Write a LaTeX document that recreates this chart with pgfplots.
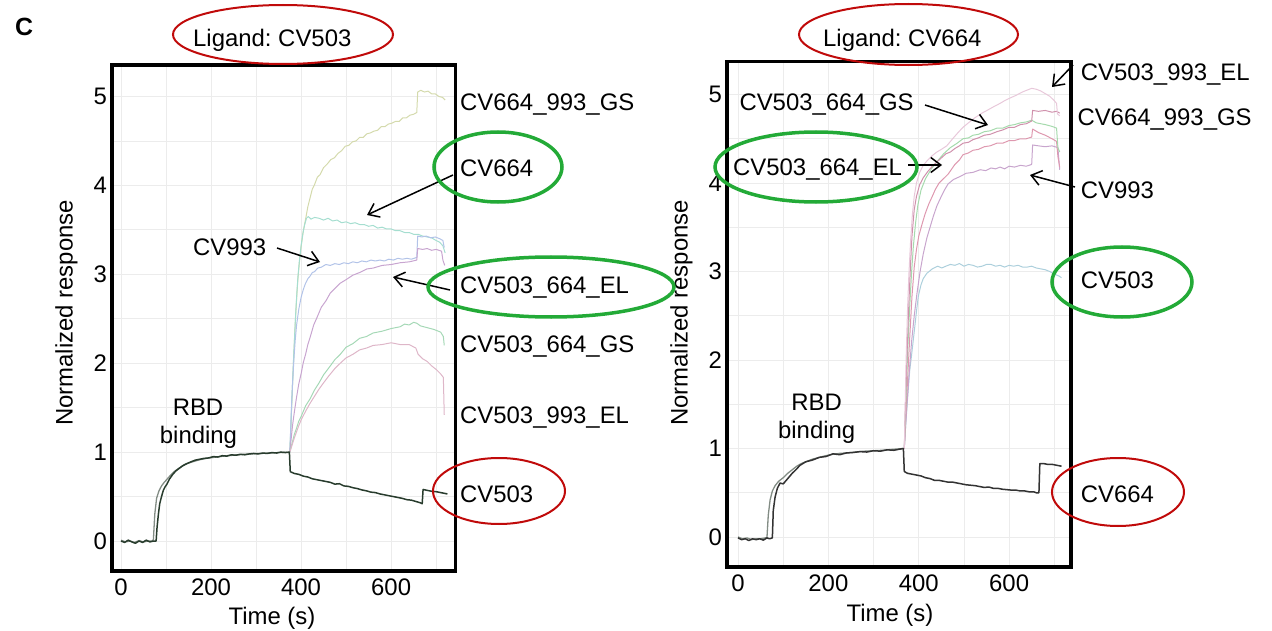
\documentclass[border=0pt]{standalone}
\usepackage{fontspec}
\setmainfont{Liberation Sans}
\usepackage{pgfplots}
\pgfplotsset{compat=1.18}
\usetikzlibrary{arrows.meta}
\frenchspacing
\newcommand{\lbl}{\fontsize{24}{28.8}\selectfont}
\definecolor{ringred}{RGB}{192,10,10}
\definecolor{ringgreen}{RGB}{35,170,55}
\definecolor{gridc}{RGB}{236,236,236}
\definecolor{cyel}{RGB}{212,218,172}
\definecolor{cteal}{RGB}{165,222,208}
\definecolor{cblue}{RGB}{178,195,232}
\definecolor{cmauve}{RGB}{200,165,208}
\definecolor{cgreen}{RGB}{165,216,182}
\definecolor{cpink}{RGB}{222,182,200}
\definecolor{rA}{RGB}{232,200,218}
\definecolor{rB}{RGB}{208,145,172}
\definecolor{rC}{RGB}{165,218,172}
\definecolor{rD}{RGB}{222,152,175}
\definecolor{rE}{RGB}{200,165,205}
\definecolor{rF}{RGB}{172,207,220}
\definecolor{blk}{RGB}{40,60,45}
\definecolor{blkgray}{RGB}{130,140,132}
\pgfplotsset{
  panel/.style={
    anchor=south west, scale only axis,
    axis line style={line width=3.5bp, black},
    /pgf/number format/assume math mode=true,
    ticklabel style={font=\lbl},
    xticklabel style={inner sep=0pt, anchor=north, yshift=-7.5bp},
    yticklabel style={inner sep=0pt, anchor=east, xshift=-5bp},
    xtick={0,200,400,600}, ytick={0,1,2,3,4,5},
    minor xtick={100,300,500,700}, minor ytick={0.5,1.5,2.5,3.5,4.5},
    major tick length=0pt, minor tick length=0pt,
    grid=both,
    major grid style={draw=gridc, line width=0.8bp},
    minor grid style={draw=gridc, line width=0.8bp},
    every axis plot/.append style={line join=round},
  },
  pale/.style={line width=1bp},
}
\begin{document}
\begin{tikzpicture}
\useasboundingbox (0,0) rectangle (1272bp,-631bp);
% ---------------- LEFT PANEL ----------------
\begin{axis}[panel, at={(112bp,-571bp)}, width=343.5bp, height=506bp,
  xmin=-20, xmax=743, ymin=-0.337, ymax=5.354]
\addplot[pale, cyel] coordinates {(375,1.00)(377,1.22)(379,1.50)(381,1.76)(383,2.00)(385,2.22)(387,2.44)(389,2.63)(391,2.80)(393,2.95)(396,3.12)(400,3.31)(405,3.49)(410,3.62)(415,3.76)(420,3.86)(425,3.96)(430,4.01)(436,4.09)(442,4.12)(450,4.20)(458,4.24)(466,4.29)(474,4.31)(482,4.36)(490,4.39)(498,4.44)(506,4.45)(514,4.49)(522,4.50)(530,4.54)(538,4.54)(546,4.58)(554,4.59)(562,4.61)(570,4.62)(578,4.66)(586,4.66)(594,4.69)(602,4.70)(610,4.72)(618,4.72)(626,4.76)(634,4.76)(642,4.79)(650,4.80)(657,4.82)(659,5.05)(666,5.07)(674,5.05)(682,5.06)(690,5.03)(698,5.03)(706,5.00)(714,4.99)(720,4.96)};
\addplot[pale, cteal] coordinates {(375,1.00)(377,1.24)(379,1.52)(381,1.78)(383,2.02)(385,2.24)(387,2.46)(389,2.65)(391,2.82)(393,2.97)(396,3.14)(400,3.32)(404,3.46)(408,3.56)(412,3.63)(416,3.65)(422,3.62)(430,3.64)(440,3.63)(450,3.61)(460,3.63)(470,3.60)(480,3.61)(490,3.58)(500,3.59)(510,3.57)(520,3.58)(530,3.56)(540,3.56)(550,3.54)(560,3.55)(570,3.52)(580,3.53)(590,3.51)(600,3.51)(610,3.49)(620,3.49)(630,3.47)(640,3.47)(650,3.45)(660,3.45)(670,3.43)(680,3.42)(690,3.41)(700,3.38)(708,3.36)(715,3.32)(720,3.24)};
\addplot[pale, cblue] coordinates {(375,1.00)(377,1.28)(379,1.55)(381,1.76)(383,1.95)(385,2.12)(387,2.26)(390,2.43)(395,2.61)(400,2.74)(405,2.83)(410,2.90)(415,2.95)(420,2.98)(425,3.02)(430,3.03)(437,3.07)(445,3.08)(455,3.11)(465,3.10)(475,3.12)(485,3.11)(495,3.13)(505,3.12)(515,3.14)(525,3.13)(535,3.15)(545,3.14)(555,3.16)(565,3.15)(575,3.16)(585,3.15)(595,3.17)(605,3.16)(615,3.18)(625,3.17)(635,3.18)(645,3.17)(657,3.19)(659,3.43)(668,3.42)(678,3.43)(688,3.41)(698,3.42)(708,3.40)(715,3.38)(718,3.30)};
\addplot[pale, cmauve] coordinates {(375,1.00)(378,1.15)(381,1.30)(385,1.45)(390,1.62)(395,1.77)(400,1.88)(405,2.01)(410,2.10)(415,2.21)(420,2.29)(428,2.43)(435,2.51)(445,2.63)(455,2.70)(465,2.79)(475,2.84)(487,2.90)(500,2.94)(515,2.99)(530,3.02)(546,3.06)(560,3.07)(580,3.10)(600,3.11)(620,3.13)(640,3.14)(657,3.16)(659,3.29)(670,3.28)(680,3.29)(690,3.27)(700,3.28)(712,3.26)(715,3.16)(719,3.10)};
\addplot[pale, cgreen] coordinates {(375,1.00)(380,1.10)(385,1.20)(390,1.27)(395,1.35)(400,1.40)(410,1.52)(420,1.60)(430,1.70)(440,1.78)(450,1.87)(462,1.95)(475,2.04)(487,2.10)(500,2.18)(515,2.22)(530,2.28)(545,2.30)(560,2.34)(580,2.36)(600,2.39)(620,2.41)(630,2.44)(640,2.43)(650,2.46)(657,2.45)(665,2.42)(680,2.40)(695,2.38)(710,2.35)(716,2.30)(718,2.20)};
\addplot[pale, cpink] coordinates {(375,1.00)(380,1.08)(385,1.16)(390,1.23)(395,1.30)(400,1.36)(410,1.46)(420,1.55)(430,1.63)(440,1.71)(450,1.78)(462,1.86)(475,1.94)(487,2.00)(500,2.06)(515,2.10)(530,2.15)(545,2.17)(560,2.20)(580,2.21)(600,2.23)(620,2.21)(640,2.21)(655,2.17)(660,2.10)(670,2.05)(680,2.02)(690,1.97)(700,1.93)(710,1.88)(716,1.84)(718,1.42)};
\addplot[line width=1.3bp, blkgray] coordinates {(0,0.01)(10,-0.01)(20,0.00)(30,-0.015)(40,0.005)(50,-0.01)(60,0.00)(70,0.00)(72,0.02)(75,0.30)(79,0.48)(84,0.56)(90,0.62)(96,0.66)(103,0.70)(110,0.74)(118,0.78)(126,0.81)(135,0.84)(145,0.87)(155,0.885)(165,0.90)(175,0.915)(190,0.93)(205,0.94)(220,0.95)(235,0.96)(250,0.965)(270,0.975)(290,0.98)(310,0.985)(330,0.99)(350,0.995)(374,1.00)};
\addplot[line width=1.5bp, blk] coordinates {(0,0.00)(8,-0.015)(16,0.01)(24,-0.01)(32,-0.025)(40,0.00)(48,-0.015)(56,0.01)(64,-0.01)(72,0.00)(78,0.00)(80,0.15)(83,0.30)(86,0.42)(90,0.50)(94,0.57)(98,0.61)(102,0.64)(108,0.70)(115,0.75)(122,0.79)(130,0.82)(138,0.85)(146,0.87)(155,0.89)(165,0.91)(175,0.92)(185,0.93)(195,0.935)(205,0.95)(215,0.945)(225,0.96)(235,0.955)(245,0.97)(255,0.965)(265,0.975)(275,0.97)(285,0.98)(295,0.985)(305,0.98)(315,0.99)(325,0.985)(335,0.995)(345,0.99)(355,1.00)(365,0.995)(374,1.00)(376,0.78)(385,0.76)(395,0.75)(405,0.73)(415,0.72)(425,0.70)(435,0.69)(445,0.68)(455,0.67)(465,0.66)(475,0.64)(485,0.645)(495,0.62)(505,0.615)(515,0.60)(525,0.59)(535,0.575)(545,0.565)(555,0.55)(565,0.545)(575,0.53)(585,0.52)(595,0.51)(605,0.50)(615,0.49)(625,0.48)(635,0.465)(645,0.46)(655,0.445)(665,0.43)(669,0.42)(671,0.58)(680,0.57)(690,0.56)(700,0.555)(710,0.545)(720,0.535)(725,0.53)};
\end{axis}
% ---------------- RIGHT PANEL ----------------
\begin{axis}[panel, at={(727bp,-567bp)}, width=344bp, height=505.5bp,
  xmin=-24.4, xmax=737, ymin=-0.339, ymax=5.373]
\addplot[pale, rF] coordinates {(368,1.00)(371,1.25)(375,1.55)(380,1.88)(384,2.05)(390,2.32)(395,2.55)(399,2.72)(405,2.85)(410,2.92)(418,2.98)(430,3.03)(442,3.06)(451,3.04)(460,3.06)(470,3.08)(480,3.07)(490,3.09)(500,3.06)(510,3.08)(520,3.07)(530,3.05)(540,3.06)(550,3.08)(560,3.08)(570,3.06)(580,3.07)(590,3.05)(600,3.07)(610,3.06)(620,3.07)(630,3.05)(640,3.05)(650,3.06)(660,3.04)(670,3.03)(680,3.02)(690,3.00)(700,2.97)(710,2.95)(716,2.93)};
\addplot[pale, rE] coordinates {(368,1.00)(372,1.35)(378,1.80)(384,2.20)(390,2.50)(396,2.75)(403,3.00)(410,3.20)(418,3.38)(425,3.50)(432,3.62)(440,3.74)(450,3.85)(458,3.93)(465,3.99)(477,4.04)(490,4.07)(505,4.11)(520,4.12)(536,4.15)(548,4.14)(560,4.17)(570,4.16)(580,4.18)(590,4.16)(600,4.19)(612,4.18)(625,4.20)(638,4.19)(650,4.21)(652,4.43)(665,4.42)(680,4.41)(695,4.42)(708,4.40)(712,4.15)};
\addplot[pale, rD] coordinates {(368,1.00)(372,1.45)(376,1.85)(380,2.25)(385,2.72)(390,3.05)(395,3.25)(400,3.40)(407,3.53)(414,3.65)(422,3.76)(430,3.85)(437,3.93)(445,4.00)(455,4.05)(465,4.10)(480,4.21)(490,4.26)(498,4.32)(510,4.34)(520,4.37)(532,4.38)(545,4.41)(558,4.42)(573,4.45)(586,4.45)(600,4.48)(612,4.48)(625,4.50)(638,4.50)(650,4.52)(652,4.61)(665,4.57)(680,4.54)(695,4.50)(705,4.47)(708,4.30)(712,4.18)};
\addplot[pale, rC] coordinates {(368,1.00)(371,1.45)(374,1.90)(377,2.28)(380,2.60)(384,2.98)(388,3.28)(393,3.55)(398,3.75)(405,3.92)(415,4.05)(428,4.16)(440,4.24)(455,4.33)(470,4.40)(485,4.45)(498,4.50)(510,4.51)(520,4.54)(532,4.55)(545,4.58)(558,4.59)(573,4.62)(586,4.62)(600,4.65)(612,4.66)(625,4.68)(638,4.69)(650,4.71)(660,4.68)(670,4.67)(680,4.66)(695,4.64)(705,4.62)(708,4.40)(712,4.35)};
\addplot[pale, rB] coordinates {(368,1.00)(370,1.40)(373,1.90)(376,2.35)(379,2.75)(382,3.10)(385,3.40)(390,3.70)(395,3.85)(402,3.98)(410,4.06)(420,4.13)(430,4.19)(445,4.26)(460,4.33)(470,4.35)(480,4.39)(490,4.42)(498,4.45)(510,4.46)(520,4.49)(532,4.51)(545,4.54)(558,4.55)(573,4.58)(586,4.60)(600,4.63)(612,4.63)(625,4.66)(638,4.67)(650,4.70)(652,4.82)(665,4.81)(680,4.82)(695,4.80)(705,4.81)(712,4.79)};
\addplot[pale, rA] coordinates {(368,1.00)(370,1.50)(372,2.00)(375,2.55)(378,2.95)(382,3.35)(386,3.65)(390,3.85)(395,4.00)(402,4.12)(410,4.20)(420,4.26)(430,4.31)(440,4.35)(450,4.38)(462,4.42)(475,4.50)(487,4.57)(498,4.63)(510,4.68)(525,4.74)(540,4.79)(551,4.82)(565,4.86)(580,4.90)(590,4.93)(602,4.96)(615,4.99)(630,5.03)(640,5.05)(650,5.07)(660,5.06)(670,5.04)(680,5.01)(690,4.98)(700,4.93)(705,4.90)(707,4.78)(712,4.76)};
\addplot[line width=1.3bp, blkgray] coordinates {(0,0.00)(10,-0.02)(20,-0.01)(30,-0.03)(40,-0.02)(50,-0.02)(60,-0.01)(64,-0.01)(67,0.25)(71,0.42)(76,0.52)(82,0.58)(90,0.63)(100,0.67)(110,0.72)(120,0.76)(130,0.80)(140,0.83)(150,0.85)(165,0.88)(180,0.90)(195,0.92)(210,0.935)(225,0.945)(240,0.95)(260,0.96)(280,0.97)(300,0.975)(320,0.98)(340,0.99)(366,1.00)};
\addplot[line width=1.5bp, black!80] coordinates {(0,-0.01)(8,-0.03)(16,-0.02)(24,-0.04)(32,-0.02)(40,-0.03)(48,-0.02)(56,-0.035)(64,-0.01)(70,-0.02)(76,-0.01)(78,0.30)(82,0.45)(87,0.55)(93,0.61)(100,0.60)(110,0.66)(120,0.72)(130,0.77)(137,0.81)(150,0.85)(165,0.87)(180,0.90)(195,0.91)(210,0.94)(225,0.93)(240,0.95)(255,0.955)(270,0.965)(285,0.96)(300,0.975)(315,0.97)(330,0.985)(345,0.98)(360,0.995)(366,1.00)(368,0.74)(375,0.72)(385,0.71)(395,0.70)(405,0.69)(415,0.67)(425,0.66)(435,0.64)(445,0.64)(455,0.63)(465,0.62)(475,0.62)(485,0.61)(495,0.60)(505,0.59)(515,0.585)(525,0.58)(535,0.57)(545,0.56)(555,0.565)(565,0.55)(575,0.55)(585,0.54)(595,0.535)(605,0.53)(615,0.53)(625,0.52)(635,0.52)(645,0.51)(655,0.51)(660,0.50)(666,0.50)(668,0.83)(676,0.83)(686,0.82)(696,0.82)(706,0.81)(716,0.80)};
\end{axis}
% ---------------- ANNOTATIONS ----------------
\begin{scope}[x=1bp,y=-1bp]
\node[anchor=base west, inner sep=0] at (15,35) {\fontsize{25}{30}\selectfont\bfseries C};
% titles
\node[anchor=base west, inner sep=0] at (193,46) {\lbl Ligand: CV503};
\node[anchor=base west, inner sep=0] at (823,46.5) {\lbl Ligand: CV664};
% axis labels
\node[anchor=base, inner sep=0] at (272,624) {\lbl Time (s)};
\node[anchor=base, inner sep=0] at (890,621) {\lbl Time (s)};
\node[anchor=base, inner sep=0, rotate=90] at (72.5,313) {\lbl Normalized response};
\node[anchor=base, inner sep=0, rotate=90] at (687.5,313) {\lbl Normalized response};
% left side labels
\node[anchor=base west, inner sep=0] at (460,110) {\lbl CV664\_993\_GS};
\node[anchor=base west, inner sep=0] at (460,176.7) {\lbl CV664};
\node[anchor=base west, inner sep=0] at (460,293) {\lbl CV503\_664\_EL};
\node[anchor=base west, inner sep=0] at (460,352) {\lbl CV503\_664\_GS};
\node[anchor=base west, inner sep=0] at (460,423) {\lbl CV503\_993\_EL};
\node[anchor=base west, inner sep=0] at (460,502) {\lbl CV503};
\node[anchor=base west, inner sep=0] at (193,255) {\lbl CV993};
\node[anchor=base, inner sep=0] at (198,415) {\lbl RBD};
\node[anchor=base, inner sep=0] at (198.5,443) {\lbl binding};
% right side labels
\node[anchor=base west, inner sep=0] at (1080.7,80) {\lbl CV503\_993\_EL};
\node[anchor=base west, inner sep=0] at (1077.3,125) {\lbl CV664\_993\_GS};
\node[anchor=base west, inner sep=0] at (1080.7,198) {\lbl CV993};
\node[anchor=base west, inner sep=0] at (1080.7,288) {\lbl CV503};
\node[anchor=base west, inner sep=0] at (1080.7,502) {\lbl CV664};
\node[anchor=base west, inner sep=0] at (739.3,110) {\lbl CV503\_664\_GS};
\node[anchor=base west, inner sep=0] at (733,175) {\lbl CV503\_664\_EL};
\node[anchor=base, inner sep=0] at (816.7,410) {\lbl RBD};
\node[anchor=base, inner sep=0] at (816.7,438) {\lbl binding};
% arrows
\begin{scope}[line width=1.5bp, -{Straight Barb[length=10bp,width=15bp]}]
\draw (453,175) -- (367,215);
\draw (277,248) -- (320,262);
\draw (450,290) -- (393,277);
\draw (925,105) -- (988,125);
\draw (908,165) -- (942,165);
\draw (1075,187) -- (1030,175);
\draw (1073,65) -- (1052,87);
\end{scope}
% rings
\draw[ringred, line width=2bp] (283,34.5) ellipse [x radius=110bp, y radius=29.5bp];
\draw[ringred, line width=2bp] (908.5,34.5) ellipse [x radius=109.5bp, y radius=30.5bp];
\draw[ringred, line width=2bp] (499,491) ellipse [x radius=66bp, y radius=33bp];
\draw[ringred, line width=2bp] (1118,492) ellipse [x radius=66bp, y radius=34bp];
\draw[ringgreen, line width=3.5bp] (498,167) ellipse [x radius=64bp, y radius=35bp];
\draw[ringgreen, line width=3.5bp] (551,287) ellipse [x radius=123bp, y radius=30bp];
\draw[ringgreen, line width=3.5bp] (816,167) ellipse [x radius=101bp, y radius=35bp];
\draw[ringgreen, line width=3.5bp] (1122,282) ellipse [x radius=70bp, y radius=35bp];
\end{scope}
\end{tikzpicture}
\end{document}
